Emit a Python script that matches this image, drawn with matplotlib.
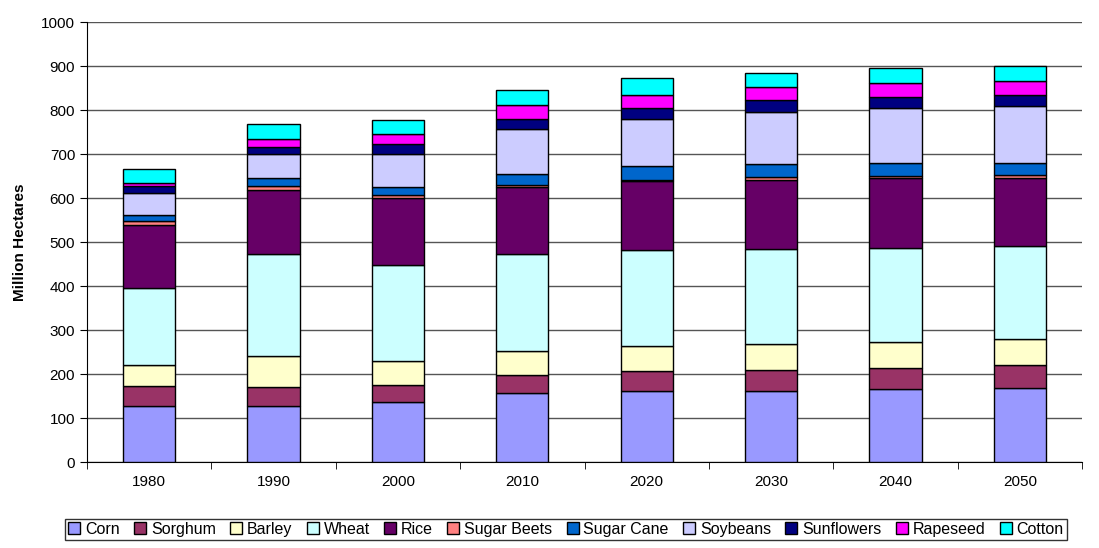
import matplotlib
matplotlib.use("Agg")
import matplotlib.pyplot as plt
import numpy as np
plt.rcParams['font.family'] = ['Liberation Sans', 'DejaVu Sans']

years = ["1980","1990","2000","2010","2020","2030","2040","2050"]
crops = ["Corn","Sorghum","Barley","Wheat","Rice","Sugar Beets","Sugar Cane","Soybeans","Sunflowers","Rapeseed","Cotton"]
corn       = [128,128,137,157,162,162,166,168]
sorghum    = [44,42,38,41,45,48,47,52]
barley     = [48,70,55,54,57,58,60,60]
wheat      = [175,233,217,220,217,217,214,210]
rice       = [143,145,153,153,157,157,158,155]
sugarbeets = [9,10,6,5,4,6,6,7]
sugarcane  = [15,17,19,25,30,29,29,28]
soybeans   = [50,55,75,102,108,118,125,128]
sunflowers = [15,15,23,23,25,27,25,27]
rapeseed   = [8,20,22,32,30,31,32,30]
cotton     = [32,33,32,33,37,32,33,35]
series = [corn,sorghum,barley,wheat,rice,sugarbeets,sugarcane,soybeans,sunflowers,rapeseed,cotton]
colors = ["#9999FF","#993366","#FFFFCC","#CCFFFF","#660066","#FF8080","#0066CC","#CCCCFF","#000080","#FF00FF","#00FFFF"]

fig = plt.figure(figsize=(10.99,5.48), dpi=100)
ax = fig.add_axes([87/1099, 1-462/548, (1082-87)/1099, 440/548])
x = np.arange(len(years))
bottom = np.zeros(len(years))
for name, vals, c in zip(crops, series, colors):
    ax.bar(x, vals, 0.42, bottom=bottom, color=c, edgecolor="black", linewidth=1, label=name, zorder=3)
    bottom += np.array(vals)
ax.set_xlim(-0.5, len(years)-0.5)
ax.set_ylim(0, 1000)
ax.set_yticks(range(0,1001,100))
ax.set_xticks(x)
ax.set_xticklabels(years)
ax.set_xticks(np.arange(-0.5, len(years)), minor=True)
ax.tick_params(axis="x", which="major", length=0, labelsize=11, pad=9)
ax.tick_params(axis="x", which="minor", length=5, direction="out")
ax.tick_params(axis="y", labelsize=11, length=5)
ax.grid(axis="y", color="#555555", linewidth=1, zorder=0)
for s in ["top","right"]:
    ax.spines[s].set_visible(False)
ax.set_ylabel("Million Hectares", fontsize=11, fontweight="bold", labelpad=10)
leg = fig.legend(loc="lower center", bbox_to_anchor=(0.515, 0.0), ncol=11, fontsize=11.5,
                 frameon=True, fancybox=False, edgecolor="black", handlelength=0.75,
                 handleheight=0.75, handletextpad=0.3, columnspacing=0.9, borderpad=0.2)
fig.savefig("out.png", dpi=100)
